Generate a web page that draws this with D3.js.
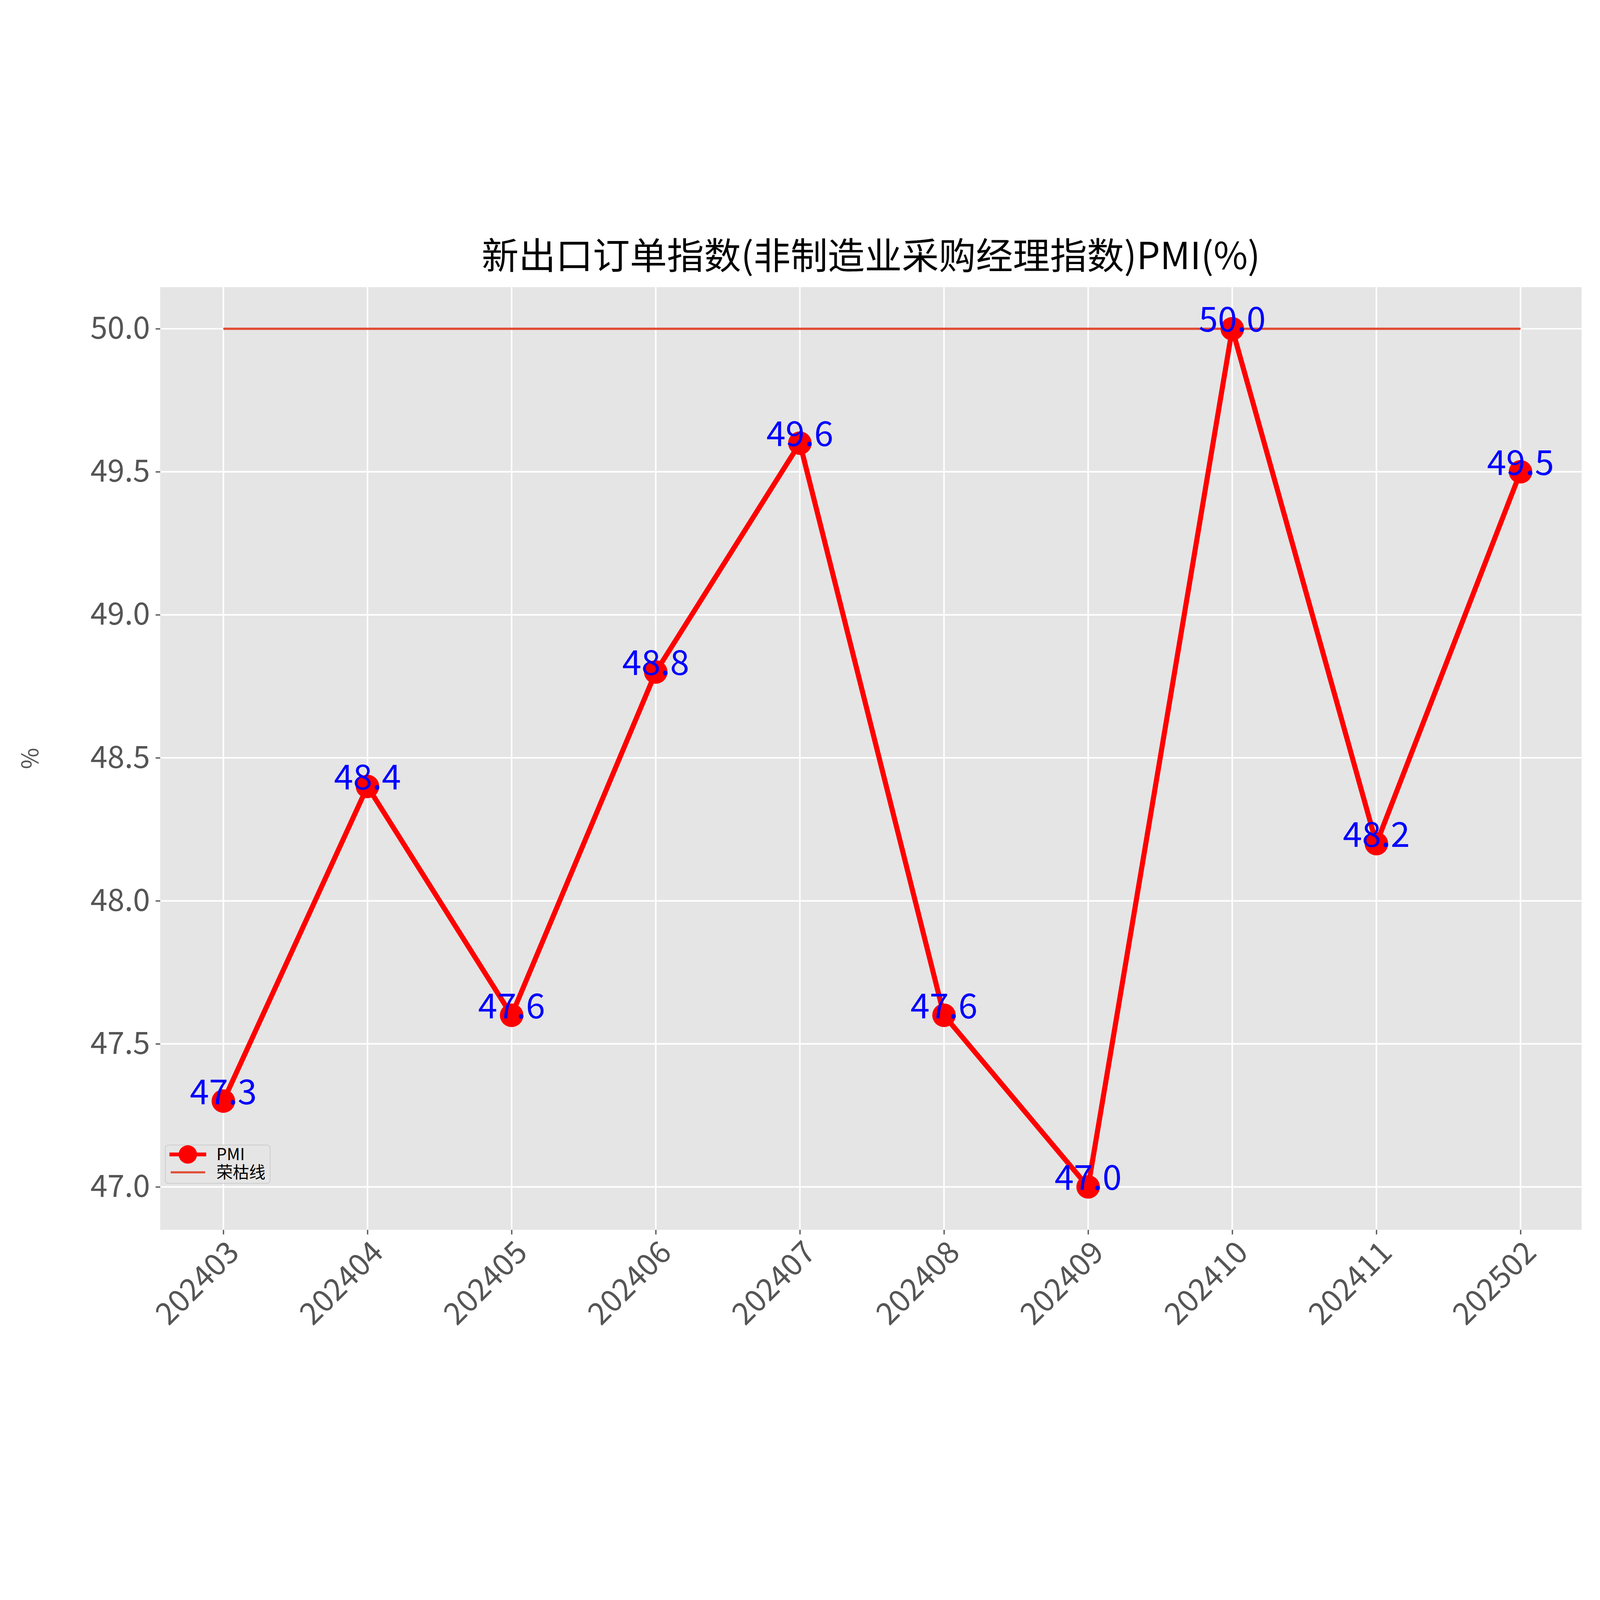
<!DOCTYPE html>
<html><head><meta charset="utf-8">
<script src="https://cdn.jsdelivr.net/npm/d3@7"></script>
<style>html,body{margin:0;padding:0;background:#fff;overflow:hidden}svg{display:block;width:100vw;height:100vh}</style>
</head><body>
<script>
const categories=["202403","202404","202405","202406","202407","202408","202409","202410","202411","202502"];
const pmiValues=[47.3,48.4,47.6,48.8,49.6,47.6,47.0,50.0,48.2,49.5];
const refValue=50.0;
const yTicks=[47.0,47.5,48.0,48.5,49.0,49.5,50.0];
const titleText="新出口订单指数(非制造业采购经理指数)PMI(%)";

const W=6261,H=4506;
const m={l:627,r:6189,t:246,b:3935};
const font='"Noto Sans CJK SC","DejaVu Sans",sans-serif';
const svg=d3.select("body").append("svg").attr("viewBox",`0 0 ${W} ${H}`).attr("preserveAspectRatio","xMidYMid meet");
svg.append("rect").attr("width",W).attr("height",H).attr("fill","#fff");
const x=d3.scalePoint().domain(categories).range([874,5950]);
const y0=d3.scaleLinear().domain([47.0,50.0]).range([3767,409]);
const y2=d3.scaleLinear().domain([y0.invert(m.b),y0.invert(m.t)]).range([m.b,m.t]);
svg.append("rect").attr("x",m.l).attr("y",m.t).attr("width",m.r-m.l).attr("height",m.b-m.t).attr("fill","#E5E5E5");
const g=svg.append("g");
g.selectAll(".gx").data(categories).join("line").attr("x1",d=>x(d)).attr("x2",d=>x(d)).attr("y1",m.t).attr("y2",m.b).attr("stroke","#fff").attr("stroke-width",6);
g.selectAll(".gy").data(yTicks).join("line").attr("x1",m.l).attr("x2",m.r).attr("y1",d=>y2(d)).attr("y2",d=>y2(d)).attr("stroke","#fff").attr("stroke-width",6);

const xa=svg.append("g").attr("transform",`translate(0,${m.b})`).call(d3.axisBottom(x).tickSize(18).tickPadding(20));
xa.select(".domain").remove();
xa.selectAll("line").attr("stroke","#555").attr("stroke-width",5);
xa.selectAll("text").attr("font-family",font).attr("font-size",120).attr("fill","#555")
  .attr("text-anchor","end").attr("dy","0.9em").attr("transform","rotate(-45) translate(-20,-30)");
const ya=svg.append("g").attr("transform",`translate(${m.l},0)`).call(d3.axisLeft(y2).tickValues(yTicks).tickFormat(d3.format(".1f")).tickSize(18).tickPadding(22));
ya.select(".domain").remove();
ya.selectAll("line").attr("stroke","#555").attr("stroke-width",5);
ya.selectAll("text").attr("font-family",font).attr("font-size",120).attr("fill","#555");

svg.append("text").attr("transform",`translate(150,${(m.t+m.b)/2}) rotate(-90)`).attr("text-anchor","middle")
 .attr("font-family",font).attr("font-size",90).attr("fill","#555").text("%");
svg.append("text").attr("x",(m.l+m.r)/2).attr("y",175).attr("text-anchor","middle")
 .attr("font-family",font).attr("font-size",145).attr("fill","#000").text(titleText);

svg.append("line").attr("x1",x(categories[0])).attr("x2",x(categories[categories.length-1]))
 .attr("y1",y2(refValue)).attr("y2",y2(refValue)).attr("stroke","#E24A33").attr("stroke-width",9);
const line=d3.line().x((d,i)=>x(categories[i])).y(d=>y2(d));
svg.append("path").datum(pmiValues).attr("d",line).attr("fill","none").attr("stroke","#FF0000").attr("stroke-width",20).attr("stroke-linejoin","round");
svg.selectAll(".pt").data(pmiValues).join("circle").attr("cx",(d,i)=>x(categories[i])).attr("cy",d=>y2(d)).attr("r",46).attr("fill","#FF0000");
svg.selectAll(".lb").data(pmiValues).join("text").attr("x",(d,i)=>x(categories[i])).attr("y",d=>y2(d)+12)
 .attr("text-anchor","middle").attr("font-family",font).attr("font-size",135).attr("fill","#0000FF").text(d=>d.toFixed(1));

const lg=svg.append("g").attr("transform","translate(647,3603)");
lg.append("rect").attr("width",410).attr("height",150).attr("rx",12).attr("fill","#E5E5E5").attr("fill-opacity",0.8).attr("stroke","#ccc").attr("stroke-width",3);
lg.append("line").attr("x1",16).attr("x2",160).attr("y1",37).attr("y2",37).attr("stroke","#FF0000").attr("stroke-width",15);
lg.append("circle").attr("cx",88).attr("cy",37).attr("r",36).attr("fill","#FF0000");
lg.append("line").attr("x1",21).attr("x2",156).attr("y1",107).attr("y2",107).attr("stroke","#E24A33").attr("stroke-width",8);
lg.append("text").attr("x",200).attr("y",60).attr("font-family",font).attr("font-size",64).attr("fill","#000").text("PMI");
lg.append("text").attr("x",200).attr("y",130).attr("font-family",font).attr("font-size",64).attr("fill","#000").text("荣枯线");
</script>
</body></html>
